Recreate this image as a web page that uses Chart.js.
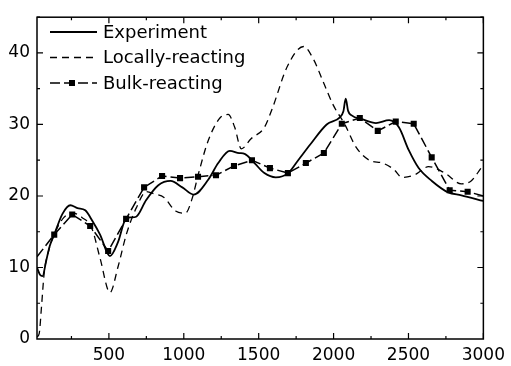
<!DOCTYPE html>
<html>
<head>
<meta charset="utf-8">
<script src="https://cdn.jsdelivr.net/npm/chart.js@4"></script>
<style>
html, body { margin: 0; background: #fff; }
#wrap { width: 511px; height: 366px; }
</style>
</head>
<body>
<div id="wrap"><canvas id="myChart"></canvas></div>
<script>
// values (frequency, level)
var expFreq = [20, 40, 57, 80, 105, 135, 190, 243, 290, 342, 390, 441, 507, 560, 616, 650, 682, 748, 830, 912, 990, 1066, 1164, 1230, 1307, 1370, 1406, 1472, 1538, 1614, 1697, 1760, 1844, 1954, 2042, 2065, 2081, 2097, 2118, 2195, 2283, 2371, 2436, 2502, 2568, 2656, 2765, 2853, 3000];
var expVal = [10.0, 9.0, 8.8, 10.8, 13.0, 14.6, 17.5, 18.7, 18.3, 18.0, 16.5, 14.6, 11.6, 13.5, 16.9, 17.0, 17.1, 19.4, 21.5, 22.1, 21.2, 20.2, 22.3, 24.6, 26.3, 26.0, 25.9, 24.6, 23.2, 22.6, 23.2, 24.9, 27.2, 30.0, 31.0, 31.8, 33.6, 31.9, 31.3, 30.7, 30.2, 30.6, 29.6, 26.4, 23.9, 22.1, 20.5, 20.1, 19.3];

var localFreq = [20, 35, 50, 68, 100, 134, 200, 260, 320, 386, 441, 507, 561, 616, 682, 750, 803, 868, 945, 1011, 1055, 1099, 1164, 1241, 1296, 1340, 1384, 1449, 1538, 1592, 1691, 1800, 1866, 1932, 1998, 2075, 2151, 2239, 2327, 2403, 2458, 2546, 2634, 2743, 2853, 2918, 2985];
var localVal = [0.3, 0.8, 4.5, 9.2, 12.5, 14.6, 17.0, 17.6, 17.0, 15.5, 11.3, 6.5, 10.1, 14.6, 18.3, 20.6, 20.3, 19.8, 17.9, 17.6, 19.6, 23.2, 27.8, 30.9, 31.4, 29.6, 26.6, 28.0, 29.6, 32.3, 38.1, 40.9, 39.1, 35.9, 32.7, 30.0, 26.8, 25.0, 24.6, 23.7, 22.6, 23.0, 24.1, 23.2, 21.7, 22.1, 23.9];

var bulkFreq = [20, 135, 255, 375, 495, 615, 735, 855, 975, 1095, 1215, 1335, 1455, 1575, 1695, 1815, 1935, 2055, 2175, 2295, 2415, 2535, 2655, 2775, 2895, 3000];
var bulkVal = [11.5, 14.6, 17.4, 15.8, 12.3, 16.8, 21.2, 22.8, 22.5, 22.7, 22.9, 24.2, 25.0, 23.9, 23.2, 24.6, 26.0, 30.1, 30.9, 29.1, 30.4, 30.1, 25.4, 20.8, 20.6, 20.0];

var xTicks = [500, 1000, 1500, 2000, 2500, 3000];
var yTicks = [0, 10, 20, 30, 40];

function pts(xs, ys) {
    return xs.map(function (x, i) { return {x: x, y: ys[i]}; });
}

var font = "'DejaVu Sans', sans-serif";

// frame with inward ticks on all four sides
var framePlugin = {
    id: 'frame',
    afterDatasetsDraw: function (chart) {
        var c = chart.ctx, a = chart.chartArea;
        var xs = chart.scales.x, ys = chart.scales.y;
        c.save();
        c.strokeStyle = '#000';
        c.lineWidth = 1.5;
        c.strokeRect(a.left, a.top, a.right - a.left, a.bottom - a.top);
        c.lineWidth = 1.2;
        c.beginPath();
        for (var f = 250; f <= 3000; f += 250) {
            var px = xs.getPixelForValue(f);
            var len = (f % 500 === 0) ? 6 : 3;
            c.moveTo(px, a.bottom); c.lineTo(px, a.bottom - len);
            c.moveTo(px, a.top); c.lineTo(px, a.top + len);
        }
        for (var v = 5; v <= 45; v += 5) {
            var py = ys.getPixelForValue(v);
            var l2 = (v % 10 === 0) ? 6 : 3;
            c.moveTo(a.left, py); c.lineTo(a.left + l2, py);
            c.moveTo(a.right, py); c.lineTo(a.right - l2, py);
        }
        c.stroke();
        c.restore();
    }
};

// legend inside the plot, with line samples
var legendPlugin = {
    id: 'inLegend',
    afterDraw: function (chart) {
        var c = chart.ctx;
        c.save();
        c.font = '18px ' + font;
        c.fillStyle = '#000';
        c.textBaseline = 'middle';
        chart.data.datasets.forEach(function (ds, i) {
            var y = 32 + i * 25.5;
            c.strokeStyle = '#000';
            c.lineWidth = ds.borderWidth;
            c.setLineDash(ds.borderDash || []);
            c.beginPath();
            c.moveTo(50, y); c.lineTo(97, y);
            c.stroke();
            c.setLineDash([]);
            if (ds.showMarks) {
                c.fillRect(69, y - 3, 6, 6);
            }
            c.fillText(ds.label, 103, y + 1);
        });
        c.restore();
    }
};

var ctx = document.getElementById('myChart').getContext('2d');
var myChart = new Chart(ctx, {
    type: 'line',
    data: {
        datasets: [{
            label: 'Experiment',
            data: pts(expFreq, expVal),
            borderColor: '#000',
            borderWidth: 1.8,
            pointRadius: 0,
            cubicInterpolationMode: 'monotone'
        }, {
            label: 'Locally-reacting',
            data: pts(localFreq, localVal),
            borderColor: '#000',
            borderWidth: 1.3,
            borderDash: [7, 5],
            pointRadius: 0,
            cubicInterpolationMode: 'monotone'
        }, {
            label: 'Bulk-reacting',
            data: pts(bulkFreq, bulkVal),
            borderColor: '#000',
            backgroundColor: '#000',
            borderWidth: 1.5,
            borderDash: [10, 4],
            tension: 0,
            showMarks: true,
            pointStyle: 'rect',
            pointRadius: function (c) {
                return (c.dataIndex === 0 || c.dataIndex === bulkFreq.length - 1) ? 0 : 4.3;
            },
            pointBorderWidth: 0
        }]
    },
    options: {
        responsive: true,
        maintainAspectRatio: false,
        animation: false,
        layout: { padding: { top: 7, right: 22, left: 0, bottom: 0 } },
        plugins: {
            legend: { display: false },
            tooltip: { enabled: false }
        },
        scales: {
            x: {
                type: 'linear',
                min: 20,
                max: 3000,
                grid: { display: false, drawTicks: false },
                border: { display: false },
                afterBuildTicks: function (s) { s.ticks = xTicks.map(function (v) { return {value: v}; }); },
                afterFit: function (s) { s.height = 27; },
                ticks: {
                    padding: 6,
                    color: '#000',
                    maxRotation: 0,
                    font: { family: font, size: 17 },
                    callback: function (v) { return String(v); }
                }
            },
            y: {
                min: 0,
                max: 45,
                grid: { display: false, drawTicks: false },
                border: { display: false },
                afterBuildTicks: function (s) { s.ticks = yTicks.map(function (v) { return {value: v}; }); },
                afterFit: function (s) { s.width = 37; },
                ticks: {
                    padding: 7,
                    color: '#000',
                    font: { family: font, size: 17 },
                    callback: function (v) { return String(v); }
                }
            }
        }
    },
    plugins: [framePlugin, legendPlugin]
});
</script>
</body>
</html>
